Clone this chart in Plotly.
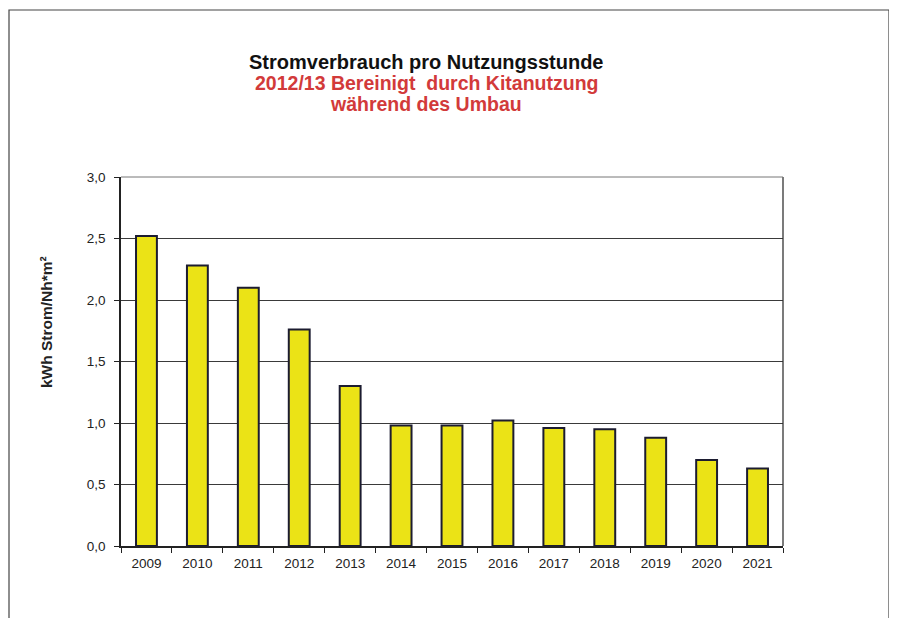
import plotly.graph_objects as go

years = ["2009", "2010", "2011", "2012", "2013", "2014", "2015", "2016", "2017", "2018", "2019", "2020", "2021"]
values = [2.52, 2.28, 2.10, 1.76, 1.30, 0.98, 0.98, 1.02, 0.96, 0.95, 0.88, 0.70, 0.63]
y_ticks = [0.0, 0.5, 1.0, 1.5, 2.0, 2.5, 3.0]
y_labels = ["0,0", "0,5", "1,0", "1,5", "2,0", "2,5", "3,0"]

font = "Liberation Sans, Arial, sans-serif"

L, T, PW, PH = 113, 169, 662, 369

def px(x):
    return (x - L) / PW

def py(y):
    return (T + PH - y) / PH

fig = go.Figure()
fig.add_trace(go.Bar(
    x=years, y=values,
    marker=dict(color="#ebe316", line=dict(color="#1c1c30", width=2)),
    width=0.41,
))

fig.update_layout(
    width=897, height=618,
    paper_bgcolor="white", plot_bgcolor="white",
    margin=dict(l=L, r=897 - L - PW, t=T, b=618 - T - PH),
    showlegend=False,
    font=dict(family=font, color="#222", size=13),
)
fig.update_xaxes(
    type="category", showline=True, linecolor="#222", linewidth=1.5,
    ticks="outside", tickson="boundaries", ticklen=5, tickcolor="#222",
    showgrid=False, ticklabelstandoff=4,
    tickfont=dict(size=13.5, family=font, color="#222"),
)
fig.update_yaxes(
    range=[0, 3.0], tickvals=y_ticks, ticktext=y_labels,
    showline=True, linecolor="#222", linewidth=1.5, ticks="outside", ticklen=5, tickcolor="#222",
    showgrid=True, gridcolor="#3a3a3a", gridwidth=1.3, zeroline=False, ticklabelstandoff=6,
    tickfont=dict(size=13.5, family=font, color="#222"),
)
# right border and top line of plot area
fig.add_shape(type="line", xref="paper", yref="paper", x0=1, x1=1, y0=0, y1=1,
              line=dict(color="#333", width=1.3))
fig.add_shape(type="line", xref="paper", yref="paper", x0=0, x1=1, y0=1, y1=1,
              line=dict(color="#777", width=1))
# outer frame
fig.add_shape(type="rect", xref="paper", yref="paper",
              x0=px(1), x1=px(881), y0=py(640), y1=py(2),
              line=dict(color="#444", width=1.2), layer="below")

fig.add_annotation(xref="paper", yref="paper", x=px(38), y=py(314), textangle=-90,
                   text="<b>kWh Strom/Nh*m²</b>", showarrow=False, xanchor="center", yanchor="middle",
                   font=dict(size=15.5, family=font, color="#222"))

tx = px(418)
fig.add_annotation(xref="paper", yref="paper", x=tx, y=py(54), xanchor="center", yanchor="middle",
                   text="<b>Stromverbrauch pro Nutzungsstunde</b>", showarrow=False,
                   font=dict(size=20, family=font, color="#111"))
fig.add_annotation(xref="paper", yref="paper", x=tx, y=py(75), xanchor="center", yanchor="middle",
                   text="<b>2012/13 Bereinigt  durch Kitanutzung</b>", showarrow=False,
                   font=dict(size=19.5, family=font, color="#d23a3a"))
fig.add_annotation(xref="paper", yref="paper", x=tx, y=py(96), xanchor="center", yanchor="middle",
                   text="<b>während des Umbau</b>", showarrow=False,
                   font=dict(size=19.5, family=font, color="#d23a3a"))

fig.write_html("out.html")
